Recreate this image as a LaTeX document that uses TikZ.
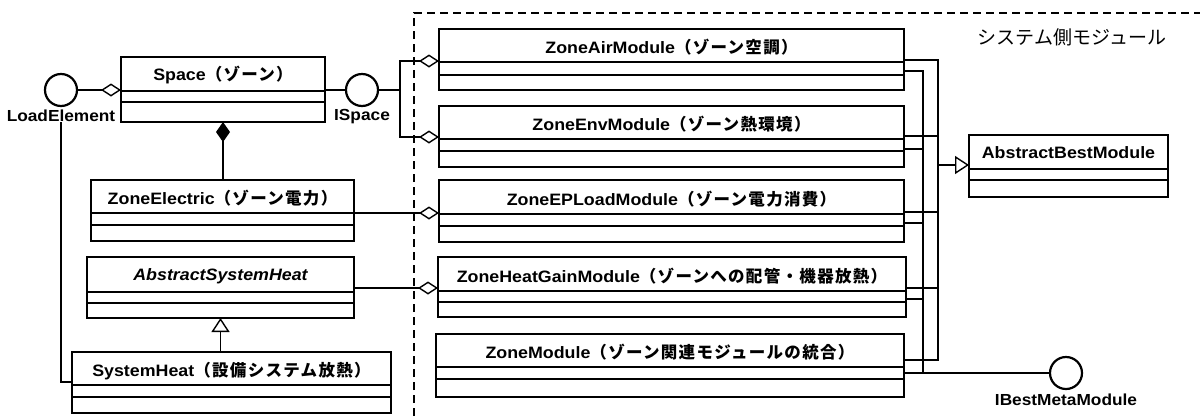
\documentclass[tikz,border=0pt]{standalone}
\usepackage{fontspec}
\setmainfont{Liberation Sans}
\newfontfamily\latf[FakeStretch=1.08]{Liberation Sans}
\newfontfamily\jpf[LetterSpace=8]{Noto Sans CJK JP}
\newfontfamily\jpr{Noto Sans CJK JP}
\usetikzlibrary{arrows.meta,calc}
\newcommand\ttl[2]{{\latf\bfseries #1}{\jpf\bfseries #2}}
\newcommand\umlcls[9]{%
  \node[clsbox, minimum width={#4-#2}, minimum height={#5-#3}] (#1) at ({(#2+#4)/2},{(#3+#5)/2}) {};
  \draw[divline] (#1.west |- 0,#6) -- (#1.east |- 0,#6);
  \draw[divline] (#1.west |- 0,#7) -- (#1.east |- 0,#7);
  \node[titletext] (#1-t) at ({(#2+#4)/2},#8) {#9};
}
\begin{document}
\begin{tikzpicture}[x=1pt,y=-1pt,
  clsbox/.style={draw, rectangle, line width=2.8pt, inner sep=0pt, outer sep=0pt},
  divline/.style={line width=1.3pt},
  conn/.style={line width=1.4pt},
  titletext/.style={font=\fontsize{16.5}{19}\selectfont, inner sep=0pt},
  iface/.style={circle, draw, line width=2.2pt, minimum size=32pt, inner sep=0pt, outer sep=0pt, fill=white},
  lbl/.style={font=\fontsize{16}{19}\selectfont\latf\bfseries, inner sep=0pt},
  agg/.style={-{Diamond[open,length=20pt,width=13pt]}},
  comp/.style={{Diamond[length=20pt,width=14pt]}-},
  gen/.style={-{Triangle[open,length=14pt,width=18pt]}},
  dashline/.style={line width=2pt, dash pattern=on 8pt off 5pt}]
\fill[white] (0,0) rectangle (1200,416);
\useasboundingbox (0,0) rectangle (1200,416);

% dashed system region
\draw[dashline] (414,416) -- (414,13) -- (1200,13);
\node[font=\fontsize{19}{22}\selectfont\jpr, inner sep=0pt] (systitle) at (1072,37) {システム側モジュール};

% classes
\umlcls{space}{121}{57}{325}{122}{91}{102}{75}{\ttl{Space}{（ゾーン）}}
\umlcls{elec}{91}{180}{354}{241}{213}{225}{198}{\ttl{ZoneElectric}{（ゾーン電力）}}
\umlcls{ash}{87}{257}{354}{318}{292}{303}{276}{{\latf\bfseries\itshape AbstractSystemHeat}}
\umlcls{sh}{72}{352}{391}{413}{385}{397}{371}{\ttl{SystemHeat}{（設備システム放熱）}}
\umlcls{air}{439}{29}{904}{90}{62}{75}{47}{\ttl{ZoneAirModule}{（ゾーン空調）}}
\umlcls{env}{439}{106}{904}{167}{139}{151}{124}{\ttl{ZoneEnvModule}{（ゾーン熱環境）}}
\umlcls{ep}{439}{180}{904}{242}{214}{226}{199}{\ttl{ZoneEPLoadModule}{（ゾーン電力消費）}}
\umlcls{heat}{438}{257}{906}{317}{291}{302}{276}{\ttl{ZoneHeatGainModule}{（ゾーンへの配管・機器放熱）}}
\umlcls{zmod}{436}{334}{904}{397}{367}{379}{352}{\ttl{ZoneModule}{（ゾーン関連モジュールの統合）}}
\umlcls{abm}{969}{135}{1168}{197}{169}{180}{153}{{\latf\bfseries AbstractBestModule}}

% interfaces
\node[iface] (le) at (61,90) {};
\node[lbl] (lel) at (61,116) {LoadElement};
\node[iface] (isp) at (362,90) {};
\node[lbl] (ispl) at (362,117) {ISpace};
\node[iface] (ibm) at (1066,373) {};
\node[lbl] (ibml) at (1066,400) {IBestMetaModule};

% left side connectors
\draw[conn,agg] (le.east) -- (le.east -| space.west);
\draw[conn] (isp.west -| space.east) -- (isp.west);
\coordinate (br) at (400,90);
\draw[conn] (isp.east) -- (br);
\draw[conn,agg] (br) |- (air.west |- 0,61);
\draw[conn,agg] (br) |- (env.west |- 0,137);
\draw[conn,comp] (space.south) -- (space.south |- elec.north);
\draw[conn,agg] (elec.east |- 0,213) -- (ep.west |- 0,213);
\draw[conn,agg] (ash.east |- 0,288) -- (heat.west |- 0,288);
\draw[conn,gen] (ash.south |- sh.north) -- (ash.south);
\draw[conn] (lel.south) |- (sh.west |- 0,382);

% right side buses
\coordinate (busA) at (938,165);
\coordinate (busB) at (923,373);
\draw[conn] (air.east |- 0,60) -| (busA);
\draw[conn] (env.east |- 0,136) -| (busA);
\draw[conn] (ep.east |- 0,212) -| (busA);
\draw[conn] (heat.east |- 0,288) -| (busA);
\draw[conn] (zmod.east |- 0,360) -| (busA);
\draw[conn,gen] (busA) -- (abm.west |- busA);
\draw[conn] (air.east |- 0,71) -| (busB);
\draw[conn] (env.east |- 0,149) -| (busB);
\draw[conn] (ep.east |- 0,223) -| (busB);
\draw[conn] (heat.east |- 0,299) -| (busB);
\draw[conn] (zmod.east |- 0,373) -| (busB);
\draw[conn] (busB) -- (ibm.west);
\end{tikzpicture}
\end{document}
